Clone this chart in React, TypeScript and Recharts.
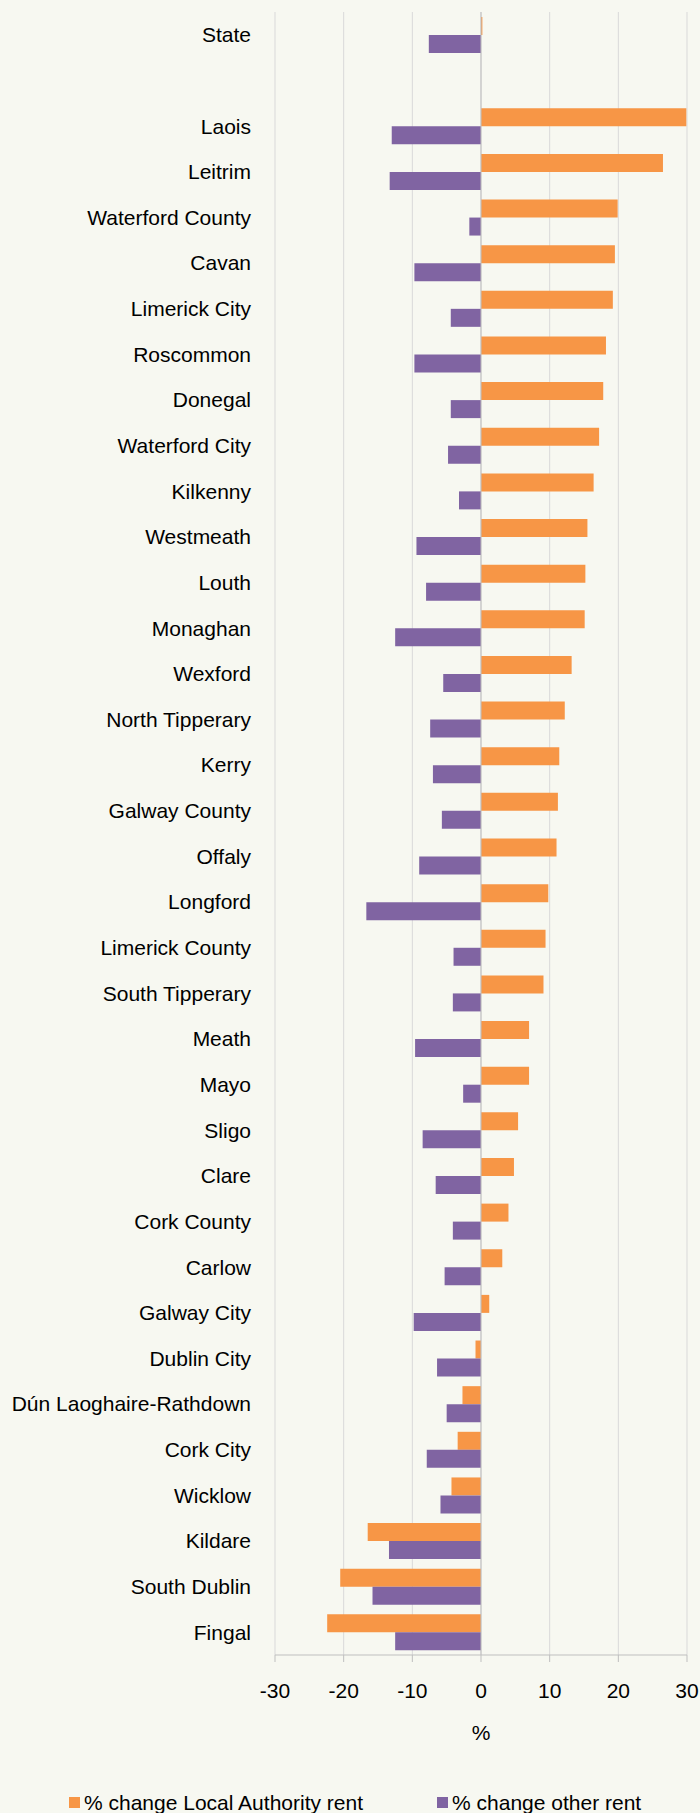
import React from 'react';
import { BarChart, Bar, XAxis, YAxis, CartesianGrid, ReferenceLine, Legend } from 'recharts';

const categories = [
  'State', '', 'Laois', 'Leitrim', 'Waterford County', 'Cavan', 'Limerick City', 'Roscommon',
  'Donegal', 'Waterford City', 'Kilkenny', 'Westmeath', 'Louth', 'Monaghan', 'Wexford',
  'North Tipperary', 'Kerry', 'Galway County', 'Offaly', 'Longford', 'Limerick County',
  'South Tipperary', 'Meath', 'Mayo', 'Sligo', 'Clare', 'Cork County', 'Carlow', 'Galway City',
  'Dublin City', 'Dún Laoghaire-Rathdown', 'Cork City', 'Wicklow', 'Kildare', 'South Dublin', 'Fingal',
];

const localAuthorityRent = [
  0.2, null, 29.9, 26.5, 19.9, 19.5, 19.2, 18.2, 17.8, 17.2, 16.4, 15.5, 15.2, 15.1, 13.2,
  12.2, 11.4, 11.2, 11.0, 9.8, 9.4, 9.1, 7.0, 7.0, 5.4, 4.8, 4.0, 3.1, 1.2,
  -0.8, -2.7, -3.4, -4.3, -16.5, -20.5, -22.4,
];

const otherRent = [
  -7.6, null, -13.0, -13.3, -1.7, -9.7, -4.4, -9.7, -4.4, -4.8, -3.2, -9.4, -8.0, -12.5, -5.5,
  -7.4, -7.0, -5.7, -9.0, -16.7, -4.0, -4.1, -9.6, -2.6, -8.5, -6.6, -4.1, -5.3, -9.8,
  -6.4, -5.0, -7.9, -5.9, -13.4, -15.8, -12.5,
];

const xTicks = [-30, -20, -10, 0, 10, 20, 30];

const seriesNames = ['% change Local Authority rent', '% change other rent'];
const seriesColors = ['#f79646', '#8064a2'];

const data = categories.map((name, i) => ({
  name,
  la: localAuthorityRent[i],
  other: otherRent[i],
}));

const FONT = '"Liberation Sans", Arial, sans-serif';

const LegendContent = () => (
  <div style={{ display: 'flex', alignItems: 'center', paddingLeft: 69, fontFamily: FONT, fontSize: 21, lineHeight: '21px', color: '#000' }}>
    {seriesNames.map((n, i) => (
      <div key={n} style={{ display: 'flex', alignItems: 'center', marginLeft: i === 0 ? 0 : 74 }}>
        <span style={{ display: 'inline-block', width: 11, height: 11, background: seriesColors[i], marginRight: 4 }} />
        <span style={{ whiteSpace: 'nowrap' }}>{n}</span>
      </div>
    ))}
  </div>
);

export default function App() {
  return (
    <div style={{ position: 'absolute', left: 0, top: 0, width: 700, height: 1813, background: '#f7f8f1', fontFamily: FONT, overflow: 'hidden' }}>
      <BarChart
        layout="vertical"
        width={700}
        height={1813}
        data={data}
        margin={{ top: 12, right: 13, left: 0, bottom: 58 }}
        barSize={18}
        barGap={0}
      >
        <CartesianGrid horizontal={false} stroke="#d9d9d9" />
        <XAxis
          type="number"
          domain={[-30, 30]}
          ticks={xTicks}
          height={100}
          stroke="#bfbfbf"
          tickSize={7}
          tickMargin={21}
          tick={{ fill: '#000', fontSize: 21, fontFamily: FONT }}
          label={{ value: '%', position: 'insideBottom', offset: 15, fill: '#000', fontSize: 21, fontFamily: FONT }}
        />
        <YAxis
          type="category"
          dataKey="name"
          width={275}
          axisLine={false}
          tickLine={false}
          tickSize={0}
          tickMargin={24}
          interval={0}
          tick={{ fill: '#000', fontSize: 21, fontFamily: FONT }}
        />
        <ReferenceLine x={0} stroke="#bfbfbf" />
        <Bar dataKey="la" name={seriesNames[0]} fill={seriesColors[0]} isAnimationActive={false} />
        <Bar dataKey="other" name={seriesNames[1]} fill={seriesColors[1]} isAnimationActive={false} />
        <Legend
          layout="horizontal"
          verticalAlign="middle"
          align="center"
          wrapperStyle={{ top: 1792, left: 0, width: 700 }}
          content={<LegendContent />}
        />
      </BarChart>
    </div>
  );
}
